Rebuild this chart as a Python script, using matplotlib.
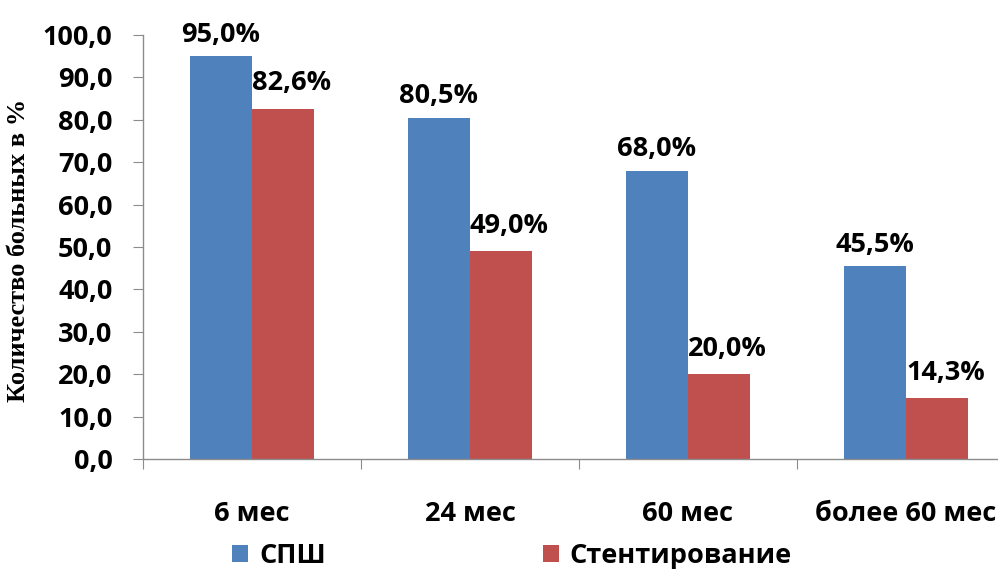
import numpy as np
import matplotlib.pyplot as plt

categories = ['6 мес', '24 мес', '60 мес', 'более 60 мес']
spsh = [95.0, 80.5, 68.0, 45.5]
stent = [82.6, 49.0, 20.0, 14.3]
series_names = ['СПШ', 'Стентирование']
yticks = [0, 10, 20, 30, 40, 50, 60, 70, 80, 90, 100]

blue = '#4F81BD'
red = '#C0504D'
axis_grey = '#8C8C8C'

fig = plt.figure(figsize=(9.98, 5.75), dpi=100)
# axes runs slightly past the right edge, like the original sheet crop
ax = fig.add_axes([143 / 998, 1 - 459 / 575, 872 / 998, 424 / 575])

x = np.arange(len(categories))
w = 0.285
b1 = ax.bar(x - w / 2, spsh, w, color=blue, label=series_names[0])
b2 = ax.bar(x + w / 2, stent, w, color=red, label=series_names[1])

lab_font = dict(family='Open Sans', fontweight='bold', fontsize=19.5)
for rect, v in zip(b1, spsh):
    ax.annotate(f'{v:.1f}%'.replace('.', ','),
                (rect.get_x() + rect.get_width() / 2, v),
                xytext=(0, 6), textcoords='offset points',
                ha='center', va='bottom', **lab_font)
for rect, v in zip(b2, stent):
    ax.annotate(f'{v:.1f}%'.replace('.', ','),
                (rect.get_x() + rect.get_width() / 2, v),
                xytext=(6, 9), textcoords='offset points',
                ha='center', va='bottom', **lab_font)

ax.set_xlim(-0.5, len(categories) - 0.5)
ax.set_ylim(0, 100)
ax.set_yticks(yticks)
ax.set_yticklabels([f'{t:.1f}'.replace('.', ',') for t in yticks], **lab_font)

# category boundaries carry the x tick marks, labels sit at centres
ax.set_xticks(np.arange(len(categories) + 1) - 0.5)
ax.set_xticklabels([])
ax.set_xticks(x, minor=True)
ax.set_xticklabels(categories, minor=True, **lab_font)
ax.tick_params(axis='x', which='minor', length=0, pad=30)
ax.tick_params(axis='x', which='major', length=7, direction='out', color=axis_grey)
ax.tick_params(axis='y', length=7, direction='out', color=axis_grey, pad=15)

for s in ['top', 'right']:
    ax.spines[s].set_visible(False)
for s in ['left', 'bottom']:
    ax.spines[s].set_color(axis_grey)
    ax.spines[s].set_linewidth(1.0)

fig.text(19 / 998, 1 - 250 / 575, 'Количество больных в %', rotation=90,
         ha='center', va='center', family='Liberation Serif',
         fontweight='bold', fontsize=19)

fig.legend(handles=[b1, b2], labels=series_names, loc='center',
           bbox_to_anchor=(512 / 998, 1 - 556 / 575), ncol=2, frameon=False,
           prop=dict(family='Open Sans', weight='bold', size=19.5),
           handlelength=0.6, handleheight=0.6, handletextpad=0.4,
           columnspacing=8.0, borderpad=0)

fig.savefig('out.png', dpi=100)
